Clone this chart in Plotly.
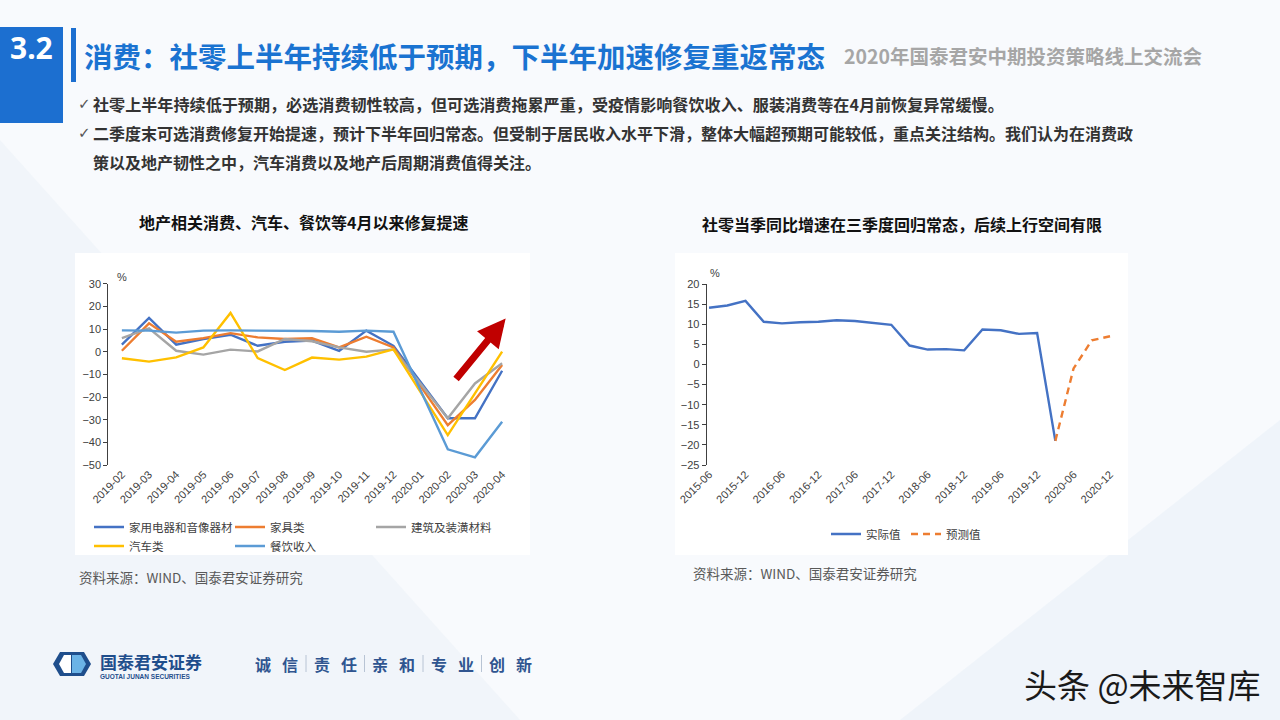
import plotly.graph_objects as go

W, H = 1280, 720
def px(x):
    return x / W
def py(y):
    return 1 - y / H

CJK = "Noto Sans CJK SC"
LAT = "Liberation Sans"

# ---------------- Left chart data ----------------
months = ["2019-02", "2019-03", "2019-04", "2019-05", "2019-06", "2019-07", "2019-08",
          "2019-09", "2019-10", "2019-11", "2019-12", "2020-01", "2020-02", "2020-03", "2020-04"]
appliance = [3.1, 14.9, 3.1, 5.6, 7.5, 2.6, 4.4, 4.9, 0.4, 9.3, 2.6, None, -29.4, -29.4, -8.4]
furniture = [0.4, 12.5, 4.4, 6.0, 8.2, 6.3, 5.6, 5.9, 1.9, 6.6, 1.9, None, -32.4, -21.3, -5.9]
building = [6.0, 10.3, 0.4, -1.3, 0.9, 0.1, 5.6, 4.6, 1.9, 0.0, 1.0, None, -29.4, -14.0, -5.1]
auto = [-2.9, -4.4, -2.5, 1.9, 17.1, -2.8, -8.1, -2.6, -3.5, -2.2, 1.0, None, -36.8, -18.4, 0.0]
catering = [9.4, 9.3, 8.4, 9.3, 9.4, 9.3, 9.4, 9.1, 8.8, 9.3, 8.8, None, -43.1, -46.6, -30.9]
left_names = ["家用电器和音像器材", "家具类", "建筑及装潢材料", "汽车类", "餐饮收入"]
left_colors = ["#4472C4", "#ED7D31", "#A5A5A5", "#FFC000", "#5B9BD5"]
left_legends = ["legend", "legend", "legend", "legend2", "legend2"]
left_range = [-50, 30]

# ---------------- Right chart data ----------------
quarters = ["2015-06", "2015-09", "2015-12", "2016-03", "2016-06", "2016-09", "2016-12",
            "2017-03", "2017-06", "2017-09", "2017-12", "2018-03", "2018-06", "2018-09",
            "2018-12", "2019-03", "2019-06", "2019-09", "2019-12", "2020-03", "2020-06",
            "2020-09", "2020-12"]
actual = [14.1, 14.65, 15.8, 10.6, 10.2, 10.5, 10.6, 11.0, 10.8, 10.35, 9.85, 4.7, 3.7, 3.8,
          3.5, 8.7, 8.5, 7.6, 7.8, -19.0, None, None, None]
forecast = [None] * 19 + [-19.0, -1.0, 6.0, 7.0]
right_names = ["实际值", "预测值"]
right_colors = ["#4472C4", "#ED7D31"]
right_range = [-25, 20]

# ---------------- geometry ----------------
L_X0, L_X1, L_Y0, L_Y1 = 108.3, 515.7, 283.7, 465.0
R_X0, R_X1, R_Y0, R_Y1 = 706.7, 1113.3, 284.0, 465.0
l_dom_y = [py(L_Y1), py(L_Y0)]
r_dom_y = [py(R_Y1), py(R_Y0)]
l_zero = l_dom_y[0] + (0 - left_range[0]) / (left_range[1] - left_range[0]) * (l_dom_y[1] - l_dom_y[0])
r_zero = r_dom_y[0] + (0 - right_range[0]) / (right_range[1] - right_range[0]) * (r_dom_y[1] - r_dom_y[0])
l_xrange = [-0.5, len(months) - 0.5]
r_xrange = [-0.13, len(quarters) - 1 + 0.18]

fig = go.Figure()

for name, vals, col, lg in zip(left_names, [appliance, furniture, building, auto, catering],
                               left_colors, left_legends):
    fig.add_trace(go.Scatter(x=months, y=vals, name=name, mode="lines", connectgaps=True,
                             line=dict(color=col, width=2.4), xaxis="x", yaxis="y",
                             legend=lg, hoverinfo="skip"))

fig.add_trace(go.Scatter(x=quarters, y=actual, name=right_names[0], mode="lines",
                         line=dict(color=right_colors[0], width=2.4), xaxis="x3", yaxis="y3",
                         legend="legend3", hoverinfo="skip"))
fig.add_trace(go.Scatter(x=quarters, y=forecast, name=right_names[1], mode="lines",
                         line=dict(color=right_colors[1], width=2.4, dash="7px,5px"),
                         xaxis="x3", yaxis="y3", legend="legend3", hoverinfo="skip"))

tickfont = dict(family=LAT, size=11, color="#404040")
axcol = "#404040"
legfont = dict(family=CJK, size=11.5, color="#404040")

def leg(x, y, ew):
    return dict(x=px(x), y=py(y), xref="container", yref="container",
                xanchor="left", yanchor="middle", orientation="h",
                bgcolor="rgba(0,0,0,0)", entrywidth=ew, entrywidthmode="pixels",
                font=legfont)

layout = dict(
    width=W, height=H, margin=dict(l=0, r=0, t=0, b=0, autoexpand=False),
    paper_bgcolor="#f8fafd", plot_bgcolor="rgba(0,0,0,0)",
    showlegend=True,
    xaxis=dict(domain=[px(L_X0), px(L_X1)], anchor="y", type="category",
               categoryorder="array", categoryarray=months, range=l_xrange,
               showline=False, ticks="", showgrid=False, zeroline=False, automargin=False,
               tickangle=-45, tickfont=tickfont),
    yaxis=dict(domain=l_dom_y, anchor="x", range=left_range, dtick=10, automargin=False,
               showline=True, linecolor=axcol, linewidth=1, ticks="outside", ticklen=4,
               tickcolor=axcol, showgrid=False, zeroline=False, tickfont=tickfont),
    xaxis2=dict(overlaying="x", anchor="free", position=l_zero, type="linear",
                range=l_xrange, tickmode="array", automargin=False,
                tickvals=[i - 0.5 for i in range(len(months) + 1)],
                showticklabels=False, ticks="outside", ticklen=4, tickcolor=axcol,
                showline=True, linecolor=axcol, linewidth=1, showgrid=False, zeroline=False),
    xaxis3=dict(domain=[px(R_X0), px(R_X1)], anchor="y3", type="category",
                categoryorder="array", categoryarray=quarters, range=r_xrange,
                tickmode="array", tickvals=quarters[::2], ticktext=quarters[::2],
                showline=False, ticks="", showgrid=False, zeroline=False, automargin=False,
                tickangle=-45, tickfont=tickfont),
    yaxis3=dict(domain=r_dom_y, anchor="x3", range=right_range, dtick=5, automargin=False,
                showline=True, linecolor=axcol, linewidth=1, ticks="outside", ticklen=4,
                tickcolor=axcol, showgrid=False, zeroline=False, tickfont=tickfont),
    xaxis4=dict(overlaying="x3", anchor="free", position=r_zero, type="linear",
                range=r_xrange, tickmode="array", automargin=False,
                tickvals=list(range(0, len(quarters), 2)),
                showticklabels=False, ticks="outside", ticklen=4, tickcolor=axcol,
                showline=True, linecolor=axcol, linewidth=1, showgrid=False, zeroline=False),
    legend=leg(89, 527, 96),
    legend2=leg(89, 546, 96),
    legend3=leg(826, 534, 35),
)
fig.update_layout(**layout)

shapes = []
# background light bands
shapes.append(dict(type="path", xref="paper", yref="paper", layer="below",
                   path=f"M {px(0)},{py(140)} L {px(520)},{py(720)} L {px(0)},{py(720)} Z",
                   fillcolor="rgba(232,239,247,0.45)", line=dict(width=0)))
shapes.append(dict(type="path", xref="paper", yref="paper", layer="below",
                   path=f"M {px(900)},{py(720)} L {px(1280)},{py(420)} L {px(1280)},{py(720)} Z",
                   fillcolor="rgba(228,237,247,0.45)", line=dict(width=0)))
# chart panels
for x0, x1 in [(75, 530), (675, 1128)]:
    shapes.append(dict(type="rect", xref="paper", yref="paper", layer="below",
                       x0=px(x0), x1=px(x1), y0=py(555), y1=py(253),
                       fillcolor="#ffffff", line=dict(width=0)))
# header box and bar
shapes.append(dict(type="rect", xref="paper", yref="paper", x0=px(0), x1=px(63),
                   y0=py(123), y1=py(27), fillcolor="#1C6FD0", line=dict(width=0)))
shapes.append(dict(type="rect", xref="paper", yref="paper", x0=px(71), x1=px(76),
                   y0=py(82), y1=py(28), fillcolor="#1C6FD0", line=dict(width=0)))
# footer logo
shapes.append(dict(type="path", xref="paper", yref="paper",
                   path=(f"M {px(60)},{py(652)} L {px(84)},{py(652)} L {px(91)},{py(664)} "
                         f"L {px(84)},{py(676)} L {px(60)},{py(676)} L {px(53)},{py(664)} Z"),
                   fillcolor="#1F4E8C", line=dict(width=0)))
shapes.append(dict(type="path", xref="paper", yref="paper",
                   path=(f"M {px(72)},{py(655)} L {px(81)},{py(655)} L {px(86)},{py(664)} "
                         f"L {px(81)},{py(673)} L {px(72)},{py(673)} Z"),
                   fillcolor="#6BB3E6", line=dict(width=0)))
shapes.append(dict(type="path", xref="paper", yref="paper",
                   path=(f"M {px(64)},{py(655)} L {px(71)},{py(655)} L {px(71)},{py(673)} "
                         f"L {px(64)},{py(673)} L {px(59)},{py(664)} Z"),
                   fillcolor="#ffffff", line=dict(width=0)))
# motto separators
for k in range(4):
    xb = 255 + 58.5 * k + 51
    shapes.append(dict(type="line", xref="paper", yref="paper", x0=px(xb), x1=px(xb),
                       y0=py(672), y1=py(655), line=dict(color="#b8c4d4", width=1)))
fig.update_layout(shapes=shapes)

ann = []
def text(x, y, s, size, color="#333333", family=CJK, bold=False, xanchor="left", yanchor="middle"):
    ann.append(dict(x=px(x), y=py(y), xref="paper", yref="paper", text=s, showarrow=False,
                    xanchor=xanchor, yanchor=yanchor,
                    font=dict(family=family, size=size, color=color,
                              weight="bold" if bold else "normal")))

text(31, 48, "3.2", 30, "#ffffff", "Noto Sans", True, "center")
text(82, 56, "消费：社零上半年持续低于预期，下半年加速修复重返常态", 28.5, "#1A73D1", CJK, True)
text(842, 56, "2020年国泰君安中期投资策略线上交流会", 19.5, "#A6A6A6", CJK, True)

text(76, 104, "✓", 15, "#555555", "DejaVu Sans")
text(91, 104, "社零上半年持续低于预期，必选消费韧性较高，但可选消费拖累严重，受疫情影响餐饮收入、服装消费等在4月前恢复异常缓慢。",
     16.1, "#333333", CJK, True)
text(76, 133, "✓", 15, "#555555", "DejaVu Sans")
text(91, 133, "二季度末可选消费修复开始提速，预计下半年回归常态。但受制于居民收入水平下滑，整体大幅超预期可能较低，重点关注结构。我们认为在消费政",
     16, "#333333", CJK, True)
text(91, 162, "策以及地产韧性之中，汽车消费以及地产后周期消费值得关注。", 16, "#333333", CJK, True)

text(303, 222, "地产相关消费、汽车、餐饮等4月以来修复提速", 16, "#111111", CJK, True, "center")
text(902, 224, "社零当季同比增速在三季度回归常态，后续上行空间有限", 16, "#111111", CJK, True, "center")

text(122, 277, "%", 11, "#404040", LAT, False, "center")
text(715, 273, "%", 11, "#404040", LAT, False, "center")

text(77, 577, "资料来源：WIND、国泰君安证券研究", 13.5, "#595959", CJK)
text(691, 573, "资料来源：WIND、国泰君安证券研究", 13.5, "#595959", CJK)

# footer
text(98, 661, "国泰君安证券", 17, "#1F4E8C", CJK, True)
text(98, 676, "GUOTAI JUNAN SECURITIES", 6.5, "#1F4E8C", LAT, True)
motto = ["诚", "信", "责", "任", "亲", "和", "专", "业", "创", "新"]
for i, ch in enumerate(motto):
    k, j = divmod(i, 2)
    cx = 255 + 58.5 * k + (8 if j == 0 else 35)
    text(cx, 664, ch, 16, "#2F5590", CJK, True, "center")

text(1263, 684, "头条 @未来智库", 33, "#1a1a1a", CJK, False, "right")

# recovery arrow (data coordinates of the left chart)
ann.append(dict(x=14.13, y=14.6, ax=12.26, ay=-12.7, xref="x", yref="y", axref="x", ayref="y",
                text="", showarrow=True, arrowhead=2, arrowsize=0.8, arrowwidth=7,
                arrowcolor="#C00000", standoff=0))
fig.update_layout(annotations=ann)

fig.write_html("out.html", config={"displayModeBar": False},
               post_script="document.body.style.margin='0px';document.body.style.overflow='hidden';")
